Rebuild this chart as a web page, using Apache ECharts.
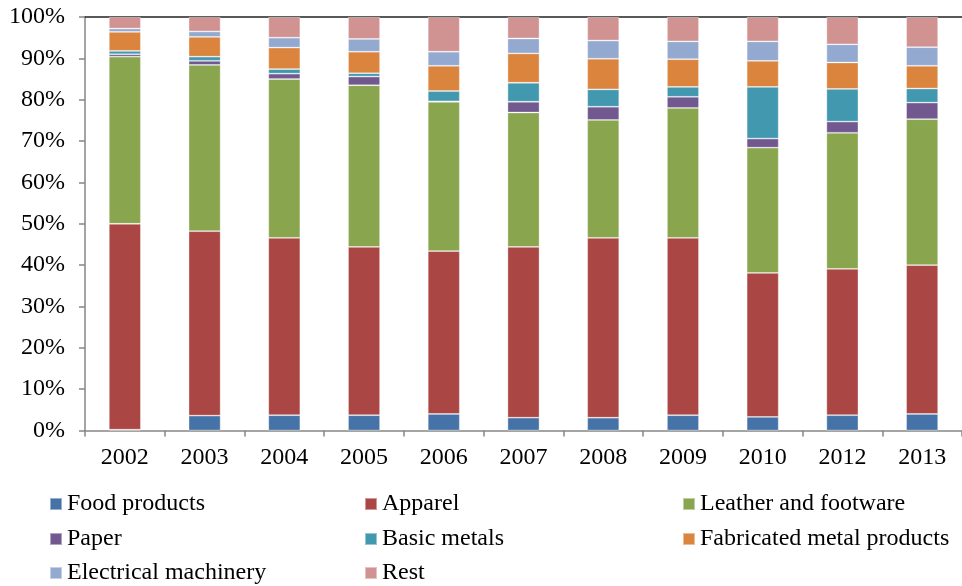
<!DOCTYPE html>
<html>
<head>
<meta charset="utf-8">
<script src="https://cdn.jsdelivr.net/npm/echarts@6/dist/echarts.min.js"></script>
<style>
html,body{margin:0;padding:0;background:#fff;}
#chart{width:962px;height:586px;}
</style>
</head>
<body>
<div id="chart"></div>
<script>
var categories = ['2002','2003','2004','2005','2006','2007','2008','2009','2010','2012','2013'];
var yTicks = [0,10,20,30,40,50,60,70,80,90,100];
var seriesNames = ['Food products','Apparel','Leather and footware','Paper','Basic metals','Fabricated metal products','Electrical machinery','Rest'];
var foodProducts   = [0.2, 3.6, 3.7, 3.7, 4.0, 3.1, 3.1, 3.7, 3.3, 3.7, 4.0];
var apparel        = [49.8,44.6,42.9,40.7,39.4,41.3,43.5,42.9,34.8,35.4,36.0];
var leather        = [40.4,40.2,38.4,39.1,36.1,32.5,28.5,31.4,30.3,32.9,35.3];
var paper          = [0.6, 1.0, 1.3, 2.1, 0.1, 2.6, 3.2, 2.7, 2.2, 2.7, 4.0];
var basicMetals    = [0.8, 1.0, 1.1, 0.8, 2.5, 4.6, 4.2, 2.4, 12.5,7.9, 3.4];
var fabricated     = [4.6, 4.8, 5.2, 5.2, 6.1, 7.1, 7.4, 6.7, 6.3, 6.4, 5.5];
var electrical     = [0.8, 1.3, 2.4, 3.1, 3.4, 3.6, 4.4, 4.3, 4.7, 4.4, 4.5];
var rest           = [2.8, 3.5, 5.0, 5.3, 8.4, 5.2, 5.7, 5.9, 5.9, 6.6, 7.3];

var seriesData = [foodProducts, apparel, leather, paper, basicMetals, fabricated, electrical, rest];
var colors = ['#4572A7','#AA4643','#89A54E','#71588F','#4198AF','#DB843D','#93A9CF','#D19392'];
var FONT = '"Liberation Serif","Times New Roman",serif';

var chart = echarts.init(document.getElementById('chart'), null, {renderer:'canvas'});

var legendPos = [
  [49,492],[364,492],[682,492],
  [49,527],[364,527],[682,527],
  [49,561],[364,561]
];
var legends = seriesNames.map(function(n,i){
  return {
    data:[n], left:legendPos[i][0], top:legendPos[i][1],
    icon:'rect', itemWidth:12, itemHeight:12, selectedMode:false,
    padding:0,
    textStyle:{fontFamily:FONT, fontSize:24, lineHeight:24, color:'#000'}
  };
});

var series = seriesNames.map(function(n,i){
  return {
    name:n, type:'bar', stack:'total', barWidth:32,
    data:seriesData[i],
    itemStyle:{color:colors[i], borderColor:'rgba(255,255,255,0.45)', borderWidth:0.8},
    emphasis:{disabled:true}
  };
});

chart.setOption({
  animation:false,
  color:colors,
  legend:legends,
  grid:{left:85, top:17, width:883, height:413.5, containLabel:false},
  xAxis:[{
    type:'category', data:categories, position:'bottom',
    axisLine:{lineStyle:{color:'#868686', width:1.5}},
    axisTick:{show:true, length:6, alignWithLabel:false, lineStyle:{color:'#868686', width:1.5}},
    axisLabel:{fontFamily:FONT, fontSize:24, color:'#000', margin:15}
  },{
    type:'category', data:categories, position:'top',
    axisLine:{lineStyle:{color:'#222', width:1.5}},
    axisTick:{show:false}, axisLabel:{show:false}
  }],
  yAxis:{
    type:'value', min:yTicks[0], max:yTicks[yTicks.length-1], interval:10,
    axisLine:{show:true, lineStyle:{color:'#868686', width:1.5}},
    axisTick:{show:true, inside:false, length:6, lineStyle:{color:'#868686', width:1.5}},
    splitLine:{show:false},
    axisLabel:{fontFamily:FONT, fontSize:24, color:'#000', margin:20, formatter:'{value}%'}
  },
  series:series
});
</script>
</body>
</html>
